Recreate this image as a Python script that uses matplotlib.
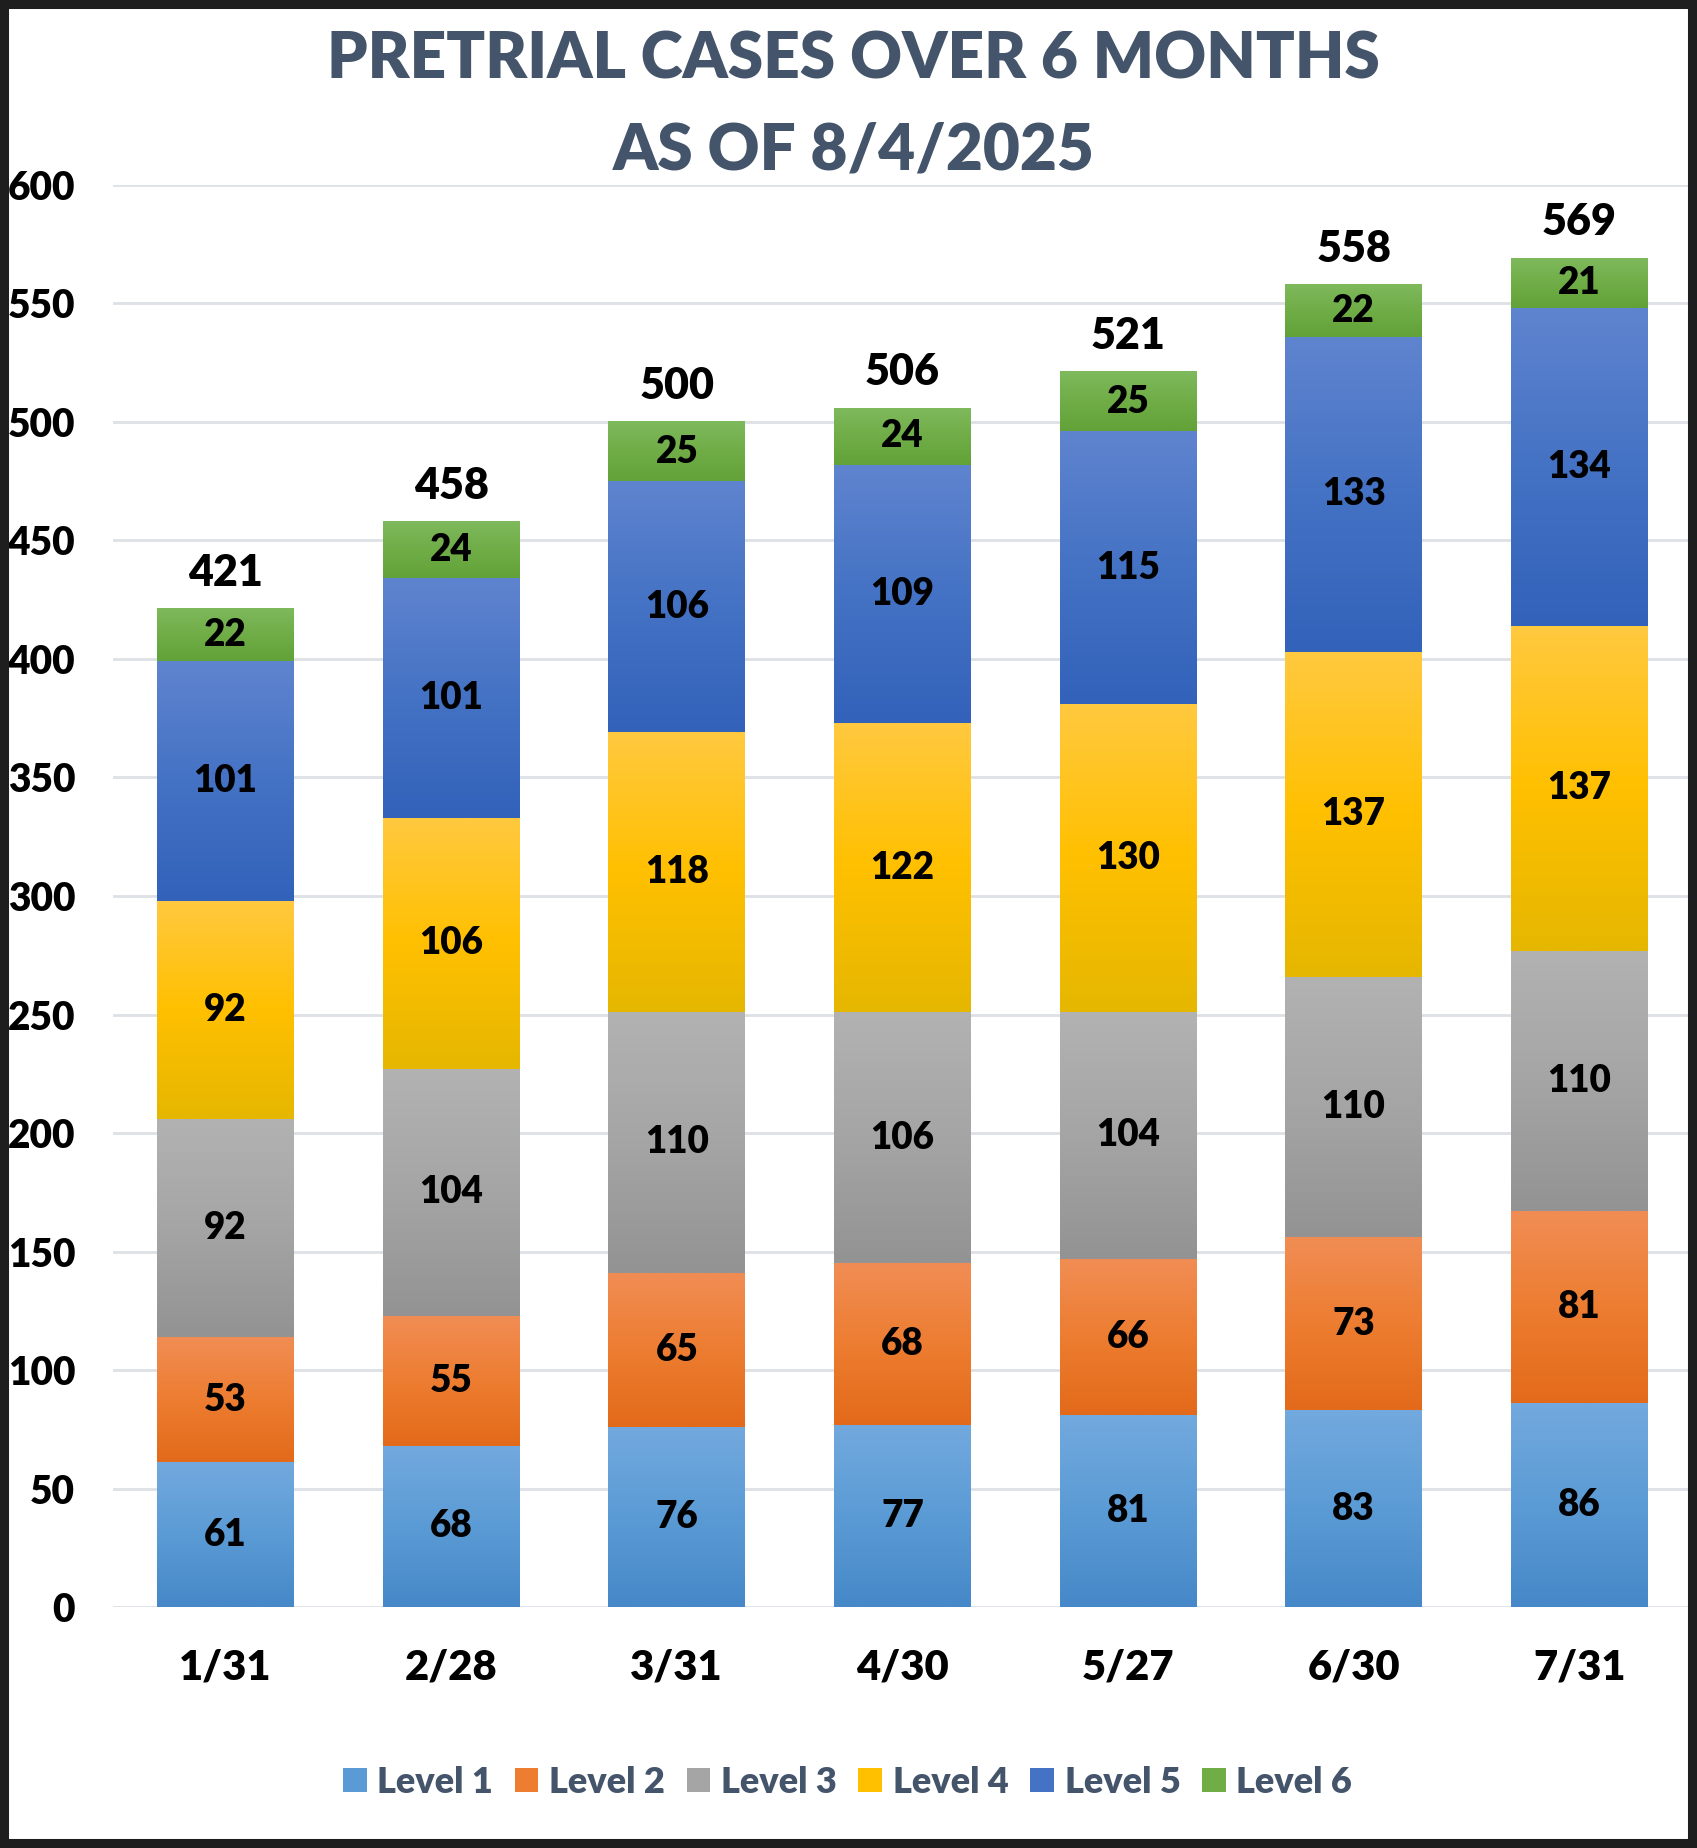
import numpy as np
import matplotlib
matplotlib.use("Agg")
import matplotlib.pyplot as plt
from matplotlib.patches import Patch, Rectangle
from matplotlib.colors import to_rgb

categories = ["1/31", "2/28", "3/31", "4/30", "5/27", "6/30", "7/31"]
series_names = ["Level 1", "Level 2", "Level 3", "Level 4", "Level 5", "Level 6"]
level1 = [61, 68, 76, 77, 81, 83, 86]
level2 = [53, 55, 65, 68, 66, 73, 81]
level3 = [92, 104, 110, 106, 104, 110, 110]
level4 = [92, 106, 118, 122, 130, 137, 137]
level5 = [101, 101, 106, 109, 115, 133, 134]
level6 = [22, 24, 25, 24, 25, 22, 21]
yticks = [0, 50, 100, 150, 200, 250, 300, 350, 400, 450, 500, 550, 600]
title_lines = ["PRETRIAL CASES OVER 6 MONTHS", "AS OF 8/4/2025"]

series = [level1, level2, level3, level4, level5, level6]
base_colors = ["#5B9BD5", "#ED7D31", "#A5A5A5", "#FFC000", "#4472C4", "#70AD47"]
grad = [
    ("#72A9DE", "#5B9BD5", "#4688C8"),
    ("#F18D54", "#ED7D31", "#E36A1A"),
    ("#B2B2B2", "#A5A5A5", "#939393"),
    ("#FFC93F", "#FFC000", "#E6B700"),
    ("#5F84CF", "#4472C4", "#3262BA"),
    ("#7EB95C", "#70AD47", "#62A238"),
]

plt.rcParams['font.family'] = ['Lato', 'DejaVu Sans']
plt.rcParams['font.weight'] = 'bold'
W = 'heavy'

fig = plt.figure(figsize=(16.97, 18.48), dpi=100)
ax = fig.add_axes([0.0664, 0.1304, 0.9307, 0.7695])
x = np.arange(len(categories))

def gradient_img(c_top, c_mid, c_bot, n=64):
    t = np.linspace(0, 1, n)[:, None]
    top, mid, bot = np.array(to_rgb(c_top)), np.array(to_rgb(c_mid)), np.array(to_rgb(c_bot))
    img = np.where(t < 0.5, top + (mid - top) * (t / 0.5), mid + (bot - mid) * ((t - 0.5) / 0.5))
    return img[:, None, :]

bottom = np.zeros(len(categories))
for vals, col, g in zip(series, base_colors, grad):
    bars = ax.bar(x, vals, width=0.607, bottom=bottom, color=col, zorder=3, linewidth=0)
    img = gradient_img(*g)
    for b, v in zip(bars, vals):
        x0, y0, w, h = b.get_x(), b.get_y(), b.get_width(), b.get_height()
        ax.imshow(img, extent=(x0, x0 + w, y0, y0 + h), aspect='auto', zorder=3.5,
                  interpolation='bilinear', origin='upper')
        ax.text(x0 + w / 2, y0 + h / 2, str(v), ha='center', va='center',
                fontsize=26.5, fontweight=W, color='black', zorder=5)
    bottom = bottom + np.array(vals)

ax.set_xlim(-0.5, len(categories) - 0.5)
ax.set_ylim(0, 600)

for xi, tot in zip(x, bottom):
    ax.annotate(str(int(tot)), (xi, tot), xytext=(0, 16), textcoords='offset pixels',
                ha='center', va='bottom', fontsize=31, fontweight=W, color='black', zorder=5)

ax.set_yticks(yticks)
ax.set_yticklabels([str(t) for t in yticks])
ax.set_xticks(x)
ax.set_xticklabels(categories)
ax.tick_params(axis='y', length=0, pad=27, labelsize=28)
ax.tick_params(axis='x', length=0, pad=30, labelsize=30)
for lab in ax.get_xticklabels() + ax.get_yticklabels():
    lab.set_fontweight(W)
    lab.set_color('black')
ax.grid(axis='y', color='#DDE0E5', linewidth=2.0, zorder=0)
ax.set_axisbelow(True)
for s in ax.spines.values():
    s.set_visible(False)

fig.text(0.503, 1 - 60 / 1848, title_lines[0], ha='center', va='center', fontsize=46,
         fontweight=W, color='#44546A')
fig.text(0.503, 1 - 151 / 1848, title_lines[1], ha='center', va='center', fontsize=46,
         fontweight=W, color='#44546A')

handles = [Patch(facecolor=c, edgecolor='none') for c in base_colors]
fig.legend(handles, series_names, loc='center', bbox_to_anchor=(0.4995, 0.0357), ncol=6,
           frameon=False, prop={'size': 26, 'weight': W}, handlelength=0.65, handleheight=0.65,
           handletextpad=0.3, columnspacing=0.6, labelcolor='#44546A')

fig.patches.append(Rectangle((0, 0), 1, 1, transform=fig.transFigure, fill=False,
                             edgecolor='#1E1E1E', linewidth=13, zorder=10))

fig.savefig("out.png", dpi=100, facecolor='white')
